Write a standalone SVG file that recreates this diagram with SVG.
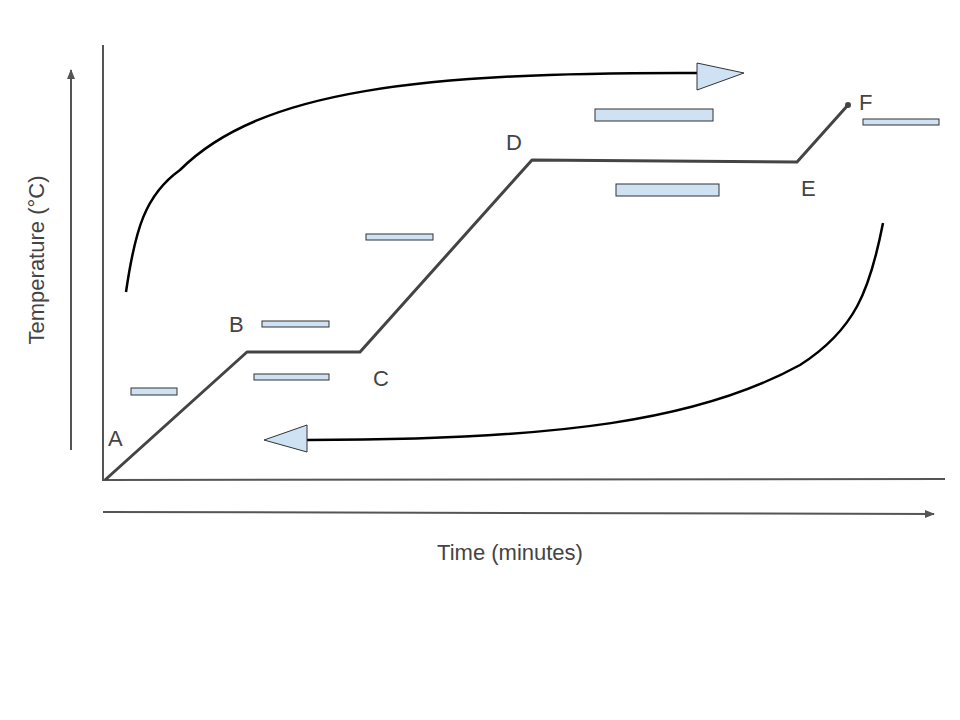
<svg xmlns="http://www.w3.org/2000/svg" width="960" height="720" viewBox="0 0 960 720">
<defs>
<style>
.ax{stroke:#555;stroke-width:2;fill:none}
.cv{stroke:#444;stroke-width:3;fill:none;stroke-linejoin:round}
.fl{stroke:#000;stroke-width:2.5;fill:none}
.bx{fill:#cfe2f3;stroke:#333;stroke-width:1}
.tri{fill:#cfe2f3;stroke:#333;stroke-width:1}
.lb{font-family:"Liberation Sans",Arial,sans-serif;font-size:22px;fill:#444}
</style>
<marker id="ah" markerWidth="10" markerHeight="10" refX="9" refY="5" orient="auto" markerUnits="userSpaceOnUse"><path d="M0,1 L10,5 L0,9 Z" fill="#555"/></marker>
</defs>
<rect width="960" height="720" fill="#fff"/>
<g id="axes">
<line class="ax" x1="103" y1="45" x2="103" y2="481"/>
<line class="ax" x1="103" y1="480" x2="945" y2="479"/>
<line class="ax" x1="71" y1="450" x2="71" y2="70" marker-end="url(#ah)"/>
<line class="ax" x1="103" y1="512" x2="934" y2="514" marker-end="url(#ah)"/>
<text class="lb" x="510" y="560" text-anchor="middle">Time (minutes)</text>
<text class="lb" transform="translate(44,260) rotate(-90)" text-anchor="middle">Temperature (°C)</text>
</g>
<g id="curve">
<polyline class="cv" points="105,480 247,352 360,352 532,160 797,162 848,105"/>
<circle cx="848" cy="105" r="3" fill="#444"/>
</g>
<g id="labels">
<text class="lb" x="108" y="446">A</text>
<text class="lb" x="229" y="332">B</text>
<text class="lb" x="373" y="386">C</text>
<text class="lb" x="506" y="150">D</text>
<text class="lb" x="801" y="196">E</text>
<text class="lb" x="859" y="110">F</text>
</g>
<g id="boxes">
<rect class="bx" x="131" y="388" width="46" height="7"/>
<rect class="bx" x="262" y="321" width="67" height="6"/>
<rect class="bx" x="254" y="374" width="75" height="6"/>
<rect class="bx" x="366" y="234" width="67" height="6"/>
<rect class="bx" x="595" y="109" width="118" height="12"/>
<rect class="bx" x="616" y="184" width="103" height="12"/>
<rect class="bx" x="863" y="119" width="76" height="6"/>
</g>
<g id="connectors">
<path class="fl" d="M126,292 C135,230 145,195 180,170 C260,90 420,72 700,73"/>
<polygon class="tri" points="697,63 744,73 697,90"/>
<path class="fl" d="M883,223 C870,290 855,330 800,365 C700,420 560,440 307,440"/>
<polygon class="tri" points="307,425 264,440 307,452"/>
</g>
</svg>
